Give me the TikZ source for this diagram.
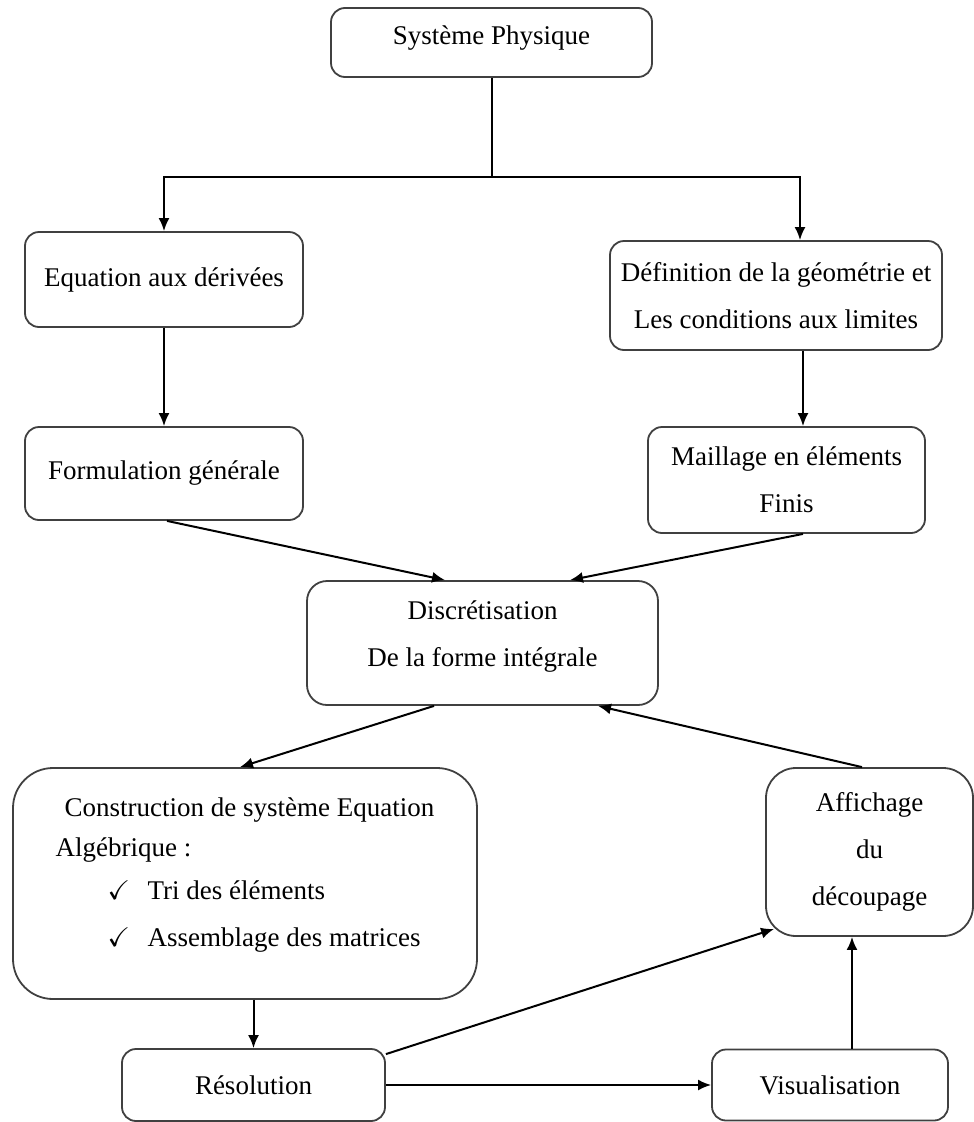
\documentclass[tikz,border=0pt]{standalone}
\usepackage{fontspec}
\setmainfont{Liberation Serif}
\usepackage{amssymb}
\usetikzlibrary{arrows.meta}

\tikzset{every path/.style={line width=2pt}}
\tikzset{box/.style={draw=black!75,line width=1.8pt,rounded corners=14pt,align=center,inner sep=0pt}}
\tikzset{arr/.style={-{Latex[length=13pt,width=11pt]},line width=2pt}}

\begin{document}
\begin{tikzpicture}[x=1pt,y=-1pt,line width=2pt,font=\fontsize{27}{47}\selectfont]
\useasboundingbox (0,0) rectangle (974,1122);
% boxes
\node[box,minimum width=321pt,minimum height=69pt] (sys) at (491.5,42.5) {Système Physique\\[-33pt]\mbox{}};
\node[box,minimum width=278pt,minimum height=95pt] (eq) at (164,279.5) {Equation aux dérivées};
\node[box,minimum width=332pt,minimum height=109pt] (def) at (776,295.5) {Définition de la géométrie et\\ Les conditions aux limites};
\node[box,minimum width=278pt,minimum height=93pt] (form) at (164,473.5) {Formulation générale};
\node[box,minimum width=277pt,minimum height=106pt] (mail) at (786.5,480) {Maillage en éléments\\ Finis};
\node[box,rounded corners=20pt,minimum width=351pt,minimum height=124pt] (disc) at (482.5,643) {Discrétisation\\ De la forme intégrale\\[-29pt]\mbox{}};
\node[box,rounded corners=40pt,align=left,minimum width=464pt,minimum height=231pt] (cons) at (245,883.5)
  {\hspace*{9pt}Construction de système Equation\\[-7pt] Algébrique :\\[-4pt]
   \hspace*{52pt}\makebox[40pt][l]{$\checkmark$}Tri des éléments\\
   \hspace*{52pt}\makebox[40pt][l]{$\checkmark$}Assemblage des matrices\\[-25pt]\mbox{}};
\node[box,rounded corners=30pt,minimum width=207pt,minimum height=168pt] (aff) at (869.5,852) {Affichage\\ du\\ découpage};
\node[box,minimum width=263pt,minimum height=72pt] (res) at (253.5,1085) {Résolution};
\node[box,minimum width=236pt,minimum height=71pt] (vis) at (830,1085) {Visualisation};
% connectors
\coordinate (split) at (491.5,177);
\draw (sys.south) -- (split);
\draw[arr] (split) -| (eq.north);
\draw[arr] (split) -| ([xshift=24pt]def.north);
\draw[arr] (eq) -- (form);
\draw[arr] ([xshift=27pt]def.south) -- ([xshift=16.5pt]mail.north);
\draw[arr] ([xshift=3pt]form.south) -- ([xshift=-37.5pt]disc.north);
\draw[arr] ([xshift=16.5pt]mail.south) -- ([xshift=87.5pt]disc.north);
\draw[arr] ([xshift=-48.5pt]disc.south) -- ([xshift=-5pt]cons.north);
\draw[arr] ([xshift=-7.5pt]aff.north) -- ([xshift=115.5pt]disc.south);
\draw[arr] (cons.south -| res.north) -- (res.north);
\draw[arr] (res.east) -- (vis.west);
\draw[arr] ([yshift=-6pt]res.north east) -- ([xshift=9pt,yshift=8pt]aff.south west);
\draw[arr] ([xshift=22pt]vis.north) -- ([xshift=22pt]vis.north |- aff.south);
\end{tikzpicture}
\end{document}
